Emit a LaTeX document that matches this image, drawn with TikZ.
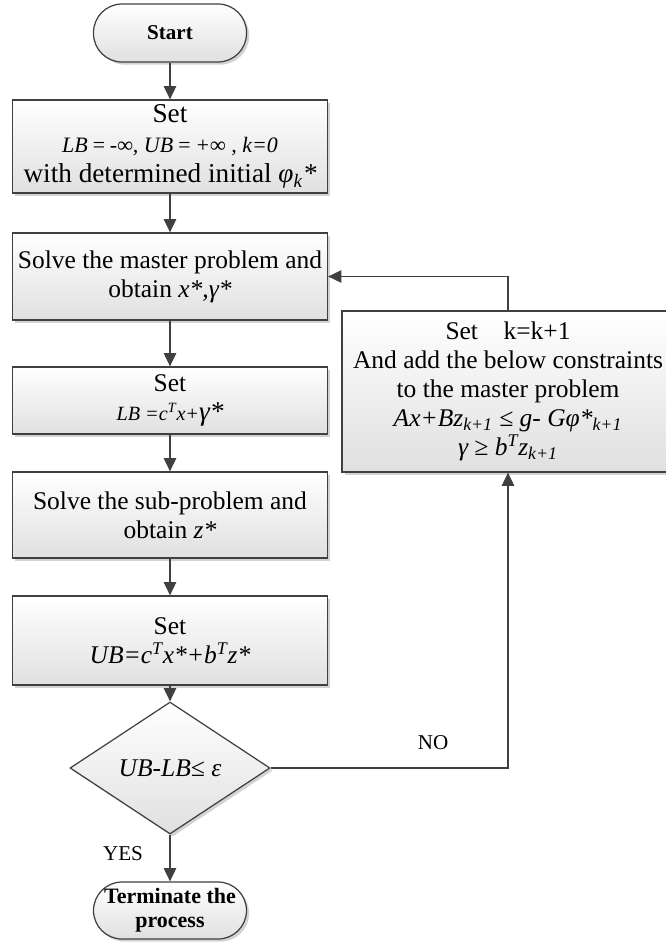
\documentclass[tikz,border=0pt]{standalone}
\usepackage{fontspec}
\setmainfont{Liberation Serif}
\usepackage{tikz}
\usetikzlibrary{arrows.meta,positioning,shapes.geometric,shadows}
\usepackage{xcolor}
\definecolor{graphite}{HTML}{404040}
\definecolor{mist}{HTML}{E0E0E0}
\tikzset{procbox/.style={draw=graphite,line width=.7pt,top color=white,bottom color=mist,drop shadow={shadow xshift=1.5pt,shadow yshift=-1.5pt,opacity=.35},minimum width=6.3cm,align=center,inner sep=2pt,font=\fontsize{14.5}{16.5}\selectfont},termbox/.style={procbox,rounded corners=.57cm,minimum width=3.06cm,minimum height=1.14cm,font=\fontsize{12.5}{13.6}\selectfont\bfseries},decision/.style={procbox,diamond,aspect=1.5,minimum width=4cm,minimum height=2.64cm,inner sep=1pt},flowline/.style={draw=graphite,line width=.85pt,->},branchlabel/.style={font=\fontsize{12}{14}\selectfont,inner sep=1pt}}

\begin{document}
\begin{tikzpicture}[>={Triangle[length=7.5pt,width=7pt]}]
\useasboundingbox (0,0) rectangle (13.32,-18.88);
\node[termbox,font=\fontsize{12}{13}\selectfont\bfseries,minimum height=1.16cm] (start) at (3.4,-0.66) {Start};
\node[procbox,minimum height=1.86cm,font=\fontsize{15.5}{17}\selectfont] (init) at (3.4,-2.93) {Set\\{\fontsize{12.5}{14}\selectfont\itshape LB\,=\,-∞, UB\,=\,+∞ , k=0}\\with determined initial \textit{φ\textsubscript{k}*}};
\node[procbox,minimum height=1.74cm] (master) at (3.4,-5.53) {Solve the master problem and\\obtain \textit{x*,γ*}};
\node[procbox,minimum height=1.34cm] (setlb) at (3.4,-8.01) {Set\\{\fontsize{11.5}{13}\selectfont\itshape LB =c\textsuperscript{T}x+}{\fontsize{15.5}{17}\selectfont\itshape γ*}};
\node[procbox,minimum height=1.72cm] (sub) at (3.4,-10.3) {Solve the sub-problem and\\obtain \textit{z*}};
\node[procbox,minimum height=1.78cm] (setub) at (3.4,-12.81) {Set\\\textit{UB=c\textsuperscript{T}x*+b\textsuperscript{T}z*}};
\node[decision] (check) at (3.4,-15.36) {\textit{UB-LB≤ ε}};
\node[termbox] (stop) at (3.4,-18.21) {Terminate the\\process};
\node[procbox,minimum width=6.64cm,minimum height=3.22cm] (cuts) at (10.16,-7.83) {Set\hspace{1em}k=k+1\\And add the below constraints\\to the master problem\\\textit{Ax+Bz\textsubscript{k+1} ≤ g- Gφ*\textsubscript{k+1}}\\\textit{γ ≥ b\textsuperscript{T}z\textsubscript{k+1}}};
\node[branchlabel] (no) at (8.66,-14.86) {NO};
\node[branchlabel] (yes) at (2.46,-17.08) {YES};
\draw[flowline] (start) -- (init);
\draw[flowline] (init) -- (master);
\draw[flowline] (master) -- (setlb);
\draw[flowline] (setlb) -- (sub);
\draw[flowline] (sub) -- (setub);
\draw[flowline] (setub) -- (check);
\draw[flowline] (check) -- (stop);
\draw[flowline] (check.east) -| (cuts.south);
\draw[flowline] (cuts.north) |- (master.east);
\end{tikzpicture}
\end{document}
